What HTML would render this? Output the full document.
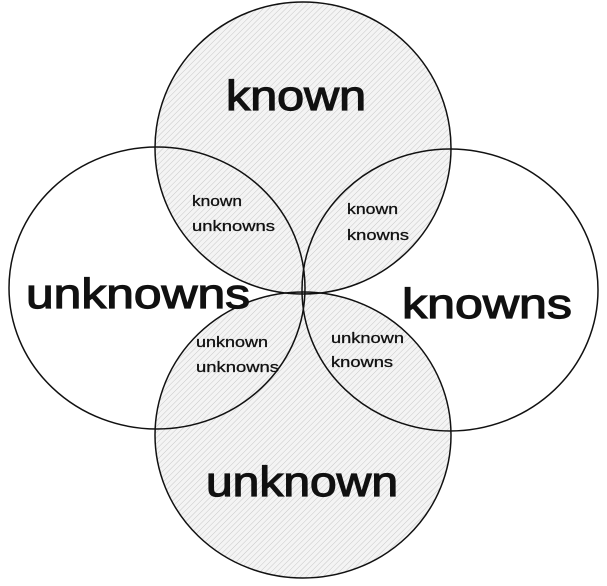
<!DOCTYPE html>
<html><head><style>
html,body{margin:0;padding:0;background:#fff;}
svg{display:block;}
text{font-family:"Liberation Sans",sans-serif;fill:#111;}
</style></head><body>
<svg width="607" height="586" viewBox="0 0 607 586" xmlns="http://www.w3.org/2000/svg">
<defs>
<pattern id="h" width="4" height="4" patternUnits="userSpaceOnUse" patternTransform="rotate(45)">
<rect width="4" height="4" fill="#f4f4f4"/>
<line x1="0" y1="0" x2="0" y2="4" stroke="#c8c8c8" stroke-width="1"/>
</pattern>
</defs>
<rect width="607" height="586" fill="#fff"/>
<ellipse cx="157" cy="288" rx="148" ry="141" fill="#fff"/>
<ellipse cx="450" cy="290" rx="148" ry="141" fill="#fff"/>
<ellipse cx="303" cy="148" rx="148" ry="146" fill="url(#h)"/>
<ellipse cx="303" cy="435" rx="148" ry="143" fill="url(#h)"/>
<g fill="none" stroke="#111" stroke-width="1.5">
<ellipse cx="157" cy="288" rx="148" ry="141"/>
<ellipse cx="450" cy="290" rx="148" ry="141"/>
<ellipse cx="303" cy="148" rx="148" ry="146"/>
<ellipse cx="303" cy="435" rx="148" ry="143"/>
</g>
<g stroke="#111" stroke-width="1.2">
<text x="226" y="110" font-size="42" textLength="140" lengthAdjust="spacingAndGlyphs">known</text>
<text x="26" y="308" font-size="42" textLength="224" lengthAdjust="spacingAndGlyphs">unknowns</text>
<text x="402" y="318" font-size="42" textLength="170" lengthAdjust="spacingAndGlyphs">knowns</text>
<text x="206" y="496" font-size="42" textLength="192" lengthAdjust="spacingAndGlyphs">unknown</text>
</g>
<g font-size="15" stroke="#111" stroke-width="0.3">
<text x="192" y="206" textLength="50" lengthAdjust="spacingAndGlyphs">known</text>
<text x="192" y="231" textLength="83" lengthAdjust="spacingAndGlyphs">unknowns</text>
<text x="347" y="214" textLength="51" lengthAdjust="spacingAndGlyphs">known</text>
<text x="347" y="240" textLength="62" lengthAdjust="spacingAndGlyphs">knowns</text>
<text x="196" y="347" textLength="72" lengthAdjust="spacingAndGlyphs">unknown</text>
<text x="196" y="372" textLength="83" lengthAdjust="spacingAndGlyphs">unknowns</text>
<text x="331" y="343" textLength="73" lengthAdjust="spacingAndGlyphs">unknown</text>
<text x="331" y="367" textLength="62" lengthAdjust="spacingAndGlyphs">knowns</text>
</g>
</svg>
</body></html>
